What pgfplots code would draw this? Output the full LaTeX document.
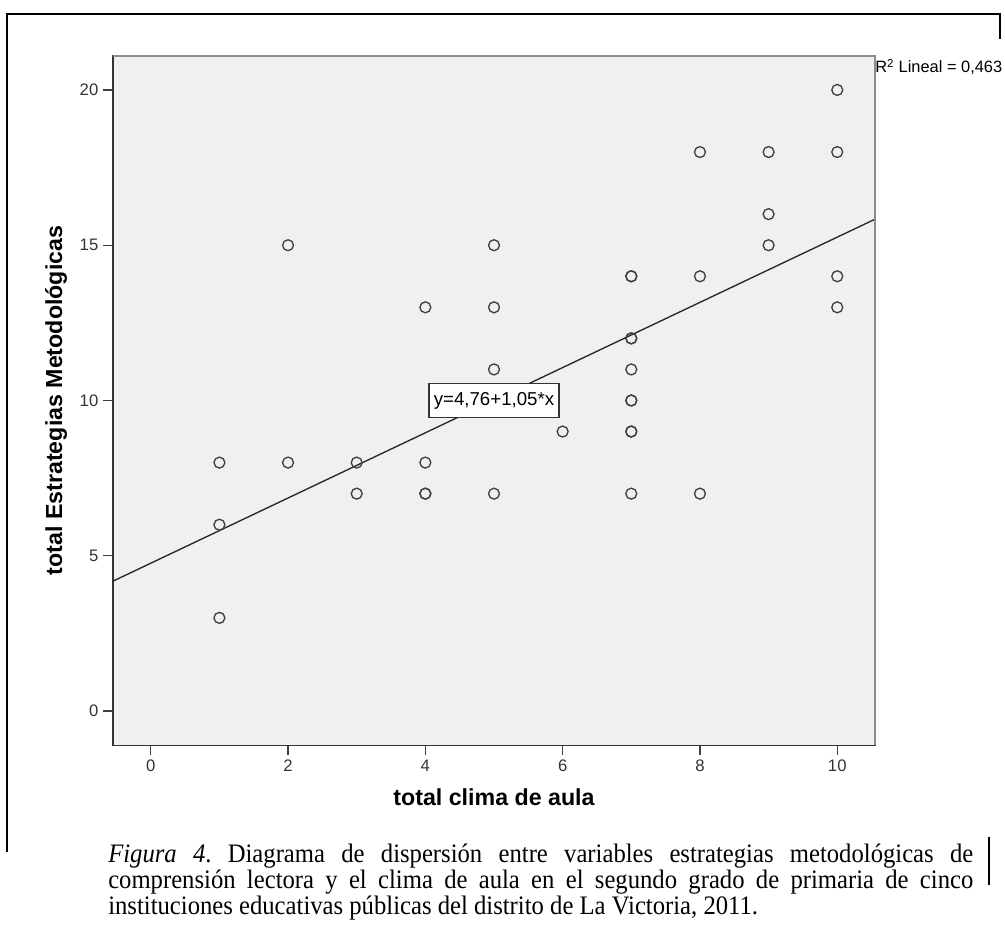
\documentclass[border=0pt]{standalone}
\usepackage{fontspec}
\setmainfont{Liberation Serif}
\newfontfamily\arial{Liberation Sans}
\newfontfamily\capfont[FakeStretch=0.925]{Liberation Serif}
\usepackage{pgfplots}
\pgfplotsset{compat=1.18}
\usepackage{pgfplotstable}

\definecolor{plotbg}{HTML}{F0F0F0}
\definecolor{markc}{HTML}{404040}

% points; repeated rows are the darker (overlapping) circles
\pgfplotstableread{
x y
1 8
1 6
1 3
2 15
2 8
3 8
3 7
4 13
4 8
4 7
4 7
5 15
5 13
5 11
5 7
6 9
7 14
7 14
7 12
7 12
7 11
7 10
7 10
7 9
7 9
7 7
8 18
8 14
8 7
9 18
9 16
9 15
10 20
10 18
10 14
10 13
}\scatterdata

\begin{document}
\begin{tikzpicture}
\begin{scope}[x=0.75pt,y=0.75pt]
  \useasboundingbox (0,0) rectangle (1005,927);
  % page frame lines (y measured from the bottom)
  \draw[line width=1.8pt] (7,75) -- (7,913) -- (1000,913) -- (1000,888);
  \draw[line width=1.8pt] (989,90) -- (989,42);
\end{scope}

\begin{axis}[
    at={(84.75pt,136.35pt)}, anchor=south west,
    scale only axis,
    width=571.5pt, height=517.05pt,
    xmin=-0.55, xmax=10.55,
    ymin=-1.1, ymax=21.1,
    xtick={0,2,...,10}, ytick={0,5,...,20},
    xtick pos=bottom, ytick pos=left,
    tick align=outside,
    major tick length=7.5pt,
    tick style={black!75, line width=1pt},
    axis line style={black!80, line width=1pt},
    axis background/.style={fill=plotbg},
    /pgf/number format/assume math mode=true,
    ticklabel style={font=\arial\fontsize{12.5}{15}\selectfont, text=black!80},
    xlabel={total clima de aula},
    ylabel={total Estrategias Metodológicas},
    label style={font=\arial\bfseries\fontsize{17.4}{20}\selectfont},
    xlabel style={at={(axis description cs:0.5,-0.087)}, anchor=base},
    ylabel style={at={(axis description cs:-0.0669,0.5)}, anchor=base, rotate=0},
    clip=false,
  ]
  \addplot[only marks, mark=o, mark size=4.1pt,
    mark options={draw=markc, line width=1pt}] table {\scatterdata};
  \addplot[black!85, line width=1pt] coordinates {(-0.55,4.1825) (10.55,15.8375)};
  \draw[black!45, line width=1.2pt] (axis description cs:0,1) -- (axis description cs:1,1) -- (axis description cs:1,0);
  \node[draw=black!80, fill=white, line width=1pt, inner xsep=3.5pt, inner ysep=0pt,
    minimum height=25.5pt, font=\arial\fontsize{14}{16}\selectfont]
    at (axis cs:5,10) {y=4,76+1,05*x};
\end{axis}

\begin{scope}[x=0.75pt,y=0.75pt]
  \node[overlay, anchor=base west, inner sep=0pt, font=\arial\fontsize{12.3}{15}\selectfont]
    at (875,854) {R\textsuperscript{2} Lineal = 0,463};
  \node[anchor=north west, inner sep=0pt, text width=648.75pt, align=justify,
    font=\capfont\fontsize{20}{17.25}\selectfont]
    at (108,83) {\frenchspacing\hyphenpenalty=10000\exhyphenpenalty=10000\emergencystretch=3em
    \textit{Figura 4}. Diagrama de dispersión entre variables estrategias metodológicas de\linebreak
    comprensión lectora y el clima de aula en el segundo grado de primaria de cinco\linebreak
    instituciones educativas públicas del distrito de La Victoria, 2011.};
\end{scope}
\end{tikzpicture}
\end{document}
